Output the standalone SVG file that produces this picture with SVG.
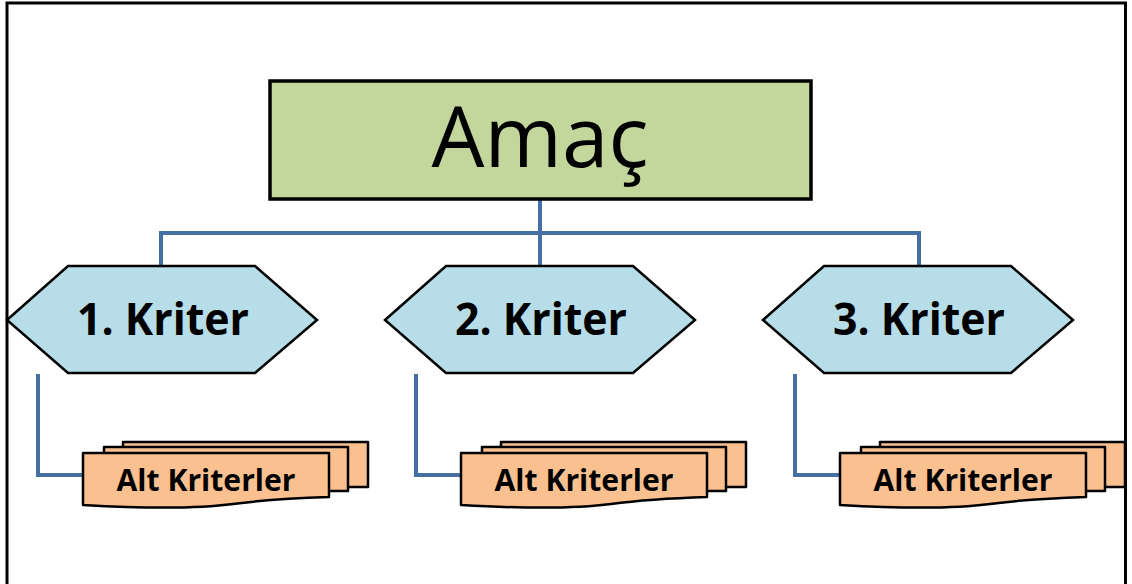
<svg xmlns="http://www.w3.org/2000/svg" width="1132" height="584" viewBox="0 0 1132 584">
  <style>
    .conn { fill: none; stroke: #4470A4; stroke-width: 4; }
    .goal { fill: #C3D69B; stroke: #000; stroke-width: 3.5; }
    .crit { fill: #B7DDE8; stroke: #000; stroke-width: 2.5; stroke-linejoin: miter; }
    .doc { fill: #FAC090; stroke: #000; stroke-width: 2.5; stroke-linejoin: round; }
    .t1 { font-family: "Open Sans", "Liberation Sans", sans-serif; font-size: 84px; fill: #000; text-anchor: middle; }
    .t2 { font-family: "Open Sans", "Liberation Sans", sans-serif; font-weight: bold; font-size: 45px; fill: #000; text-anchor: middle; }
    .t3 { font-family: "Open Sans", "Liberation Sans", sans-serif; font-weight: bold; font-size: 31px; fill: #000; text-anchor: middle; }
  </style>
  <defs>
    <g id="docs">
      <path class="doc" d="M40,0 H285 V45 H40 Z"/>
      <path class="doc" d="M21,5 H265 V49 H21 Z"/>
      <path class="doc" d="M0,11 H246 V55 C215,56 180,58 150,62 C120,66 70,67 0,63 Z"/>
    </g>
  </defs>
  <rect x="0" y="0" width="1132" height="584" fill="#fff"/>

  <g id="connectors">
    <path class="conn" d="M540,199 V266"/>
    <path class="conn" d="M161,266 V233 H919 V266"/>
    <path class="conn" d="M38,374 V475 H85"/>
    <path class="conn" d="M416,374 V475 H463"/>
    <path class="conn" d="M795,374 V475 H841"/>
  </g>

  <g id="amac">
    <rect class="goal" x="270" y="81" width="541" height="118"/>
    <text class="t1" x="540" y="167" textLength="217" lengthAdjust="spacingAndGlyphs">Amaç</text>
  </g>

  <g id="kriter1">
    <polygon class="crit" points="7,320 68,266 255,266 317,320 255,373 68,373"/>
    <text class="t2" x="163" y="335" textLength="172" lengthAdjust="spacingAndGlyphs">1. Kriter</text>
  </g>
  <g id="kriter2">
    <polygon class="crit" points="385,320 446,266 633,266 695,320 633,373 446,373"/>
    <text class="t2" x="541" y="335" textLength="172" lengthAdjust="spacingAndGlyphs">2. Kriter</text>
  </g>
  <g id="kriter3">
    <polygon class="crit" points="763,320 824,266 1011,266 1073,320 1011,373 824,373"/>
    <text class="t2" x="919" y="335" textLength="172" lengthAdjust="spacingAndGlyphs">3. Kriter</text>
  </g>

  <g id="alt1">
    <use href="#docs" x="83" y="442"/>
    <text class="t3" x="206" y="491" textLength="179" lengthAdjust="spacingAndGlyphs">Alt Kriterler</text>
  </g>
  <g id="alt2">
    <use href="#docs" x="461" y="442"/>
    <text class="t3" x="584" y="491" textLength="179" lengthAdjust="spacingAndGlyphs">Alt Kriterler</text>
  </g>
  <g id="alt3">
    <use href="#docs" x="840" y="442"/>
    <text class="t3" x="963" y="491" textLength="179" lengthAdjust="spacingAndGlyphs">Alt Kriterler</text>
  </g>

  <path id="frame" d="M7,584 V3 H1125.5 V584" fill="none" stroke="#000" stroke-width="3"/>
</svg>
